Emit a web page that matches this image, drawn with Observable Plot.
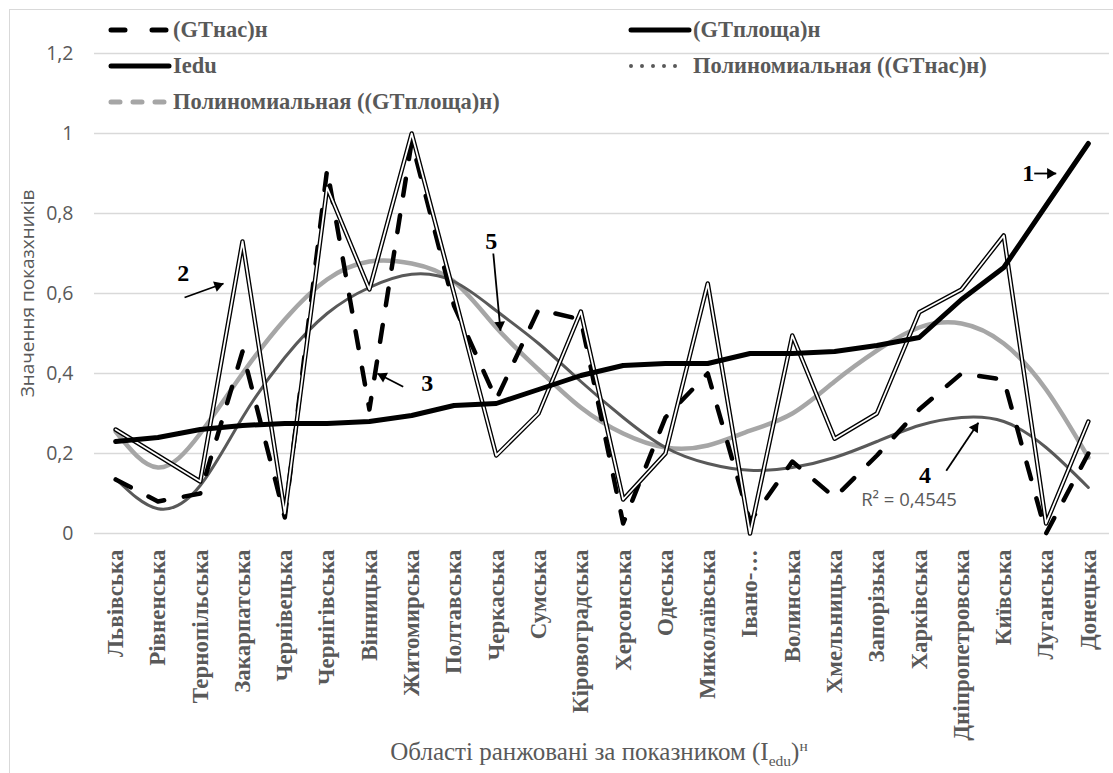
<!DOCTYPE html>
<html>
<head>
<meta charset="utf-8">
<script src="https://cdn.jsdelivr.net/npm/d3@7"></script>
<script src="https://cdn.jsdelivr.net/npm/@observablehq/plot@0.6"></script>
<style>
  body { margin: 0; background: #fff; }
  #wrap { position: relative; width: 1113px; height: 773px; overflow: hidden; background: #fff; }
  #frame { position: absolute; left: 9px; top: 9px; width: 1130px; height: 820px; border: 1px solid #d9d9d9; box-sizing: border-box; }
  #chart { position: absolute; left: 0; top: 0; }
  #legend { position: absolute; left: 108px; top: 12px; display: grid; grid-template-columns: 520px auto; grid-auto-rows: 36px; align-items: center; }
  .leg { display: flex; align-items: center; white-space: nowrap; font-family: "Liberation Serif", "Times New Roman", serif; font-weight: bold; font-size: 22.5px; color: #595959; }
  .leg svg { margin-right: 1px; }
  #xtitle { position: absolute; left: 0; width: 1198px; top: 732px; text-align: center; font-family: "Liberation Serif", "Times New Roman", serif; font-size: 25px; color: #595959; line-height: 28px; }
  #xtitle sub, #xtitle sup { font-size: 62%; }
</style>
</head>
<body>
<div id="wrap">
  <div id="frame"></div>
  <div id="chart"></div>
  <div id="legend"></div>
  <div id="xtitle">Області ранжовані за показником (I<sub>edu</sub>)<sup>н</sup></div>
</div>
<script>
// ---- data ----
const categories = ["Львівська","Рівненська","Тернопільська","Закарпатська","Чернівецька","Чернігівська","Вінницька","Житомирська","Полтавська","Черкаська","Сумська","Кіровоградська","Херсонська","Одеська","Миколаївська","Івано-…","Волинська","Хмельницька","Запорізька","Харківська","Дніпропетровська","Київська","Луганська","Донецька"];

const iedu     = [0.23,0.24,0.26,0.27,0.275,0.275,0.28,0.295,0.32,0.325,0.36,0.395,0.42,0.425,0.425,0.45,0.45,0.455,0.47,0.49,0.585,0.665,0.82,0.975];
const gtPloshcha = [0.26,0.195,0.13,0.73,0.05,0.865,0.61,1.0,0.6,0.195,0.30,0.555,0.085,0.2,0.625,0.0,0.495,0.237,0.30,0.553,0.61,0.745,0.025,0.28];
const gtNas    = [0.135,0.08,0.10,0.455,0.04,0.91,0.31,0.98,0.57,0.335,0.56,0.535,0.025,0.29,0.40,0.03,0.18,0.09,0.195,0.31,0.40,0.385,0.0,0.20];
const trendNas = [0.137,0.062,0.12,0.29,0.44,0.55,0.615,0.648,0.63,0.557,0.475,0.38,0.29,0.215,0.175,0.158,0.165,0.19,0.23,0.27,0.29,0.28,0.215,0.115];
const trendPloshcha = [0.255,0.165,0.25,0.40,0.535,0.635,0.68,0.675,0.63,0.515,0.41,0.315,0.25,0.215,0.22,0.257,0.30,0.38,0.457,0.515,0.525,0.475,0.36,0.19];

const yTicks = [0, 0.2, 0.4, 0.6, 0.8, 1, 1.2];
const yTitle = "Значення показхників";

const legendLabels = ["(GTнас)н", "(GTплоща)н", "Iedu", "Полиномиальная ((GTнас)н)", "Полиномиальная ((GTплоща)н)"];
const legendKinds  = ["dash", "solid", "solid", "dot", "graydash"];

// annotation labels (x in category index units, y in value units)
const noteText = ["1", "2", "3", "4", "5"];
const noteX    = [21.58, 1.60, 7.37, 19.14, 8.88];
const noteY    = [0.90, 0.65, 0.375, 0.145, 0.73];
const arrowX1  = [21.72, 1.63, 6.80, 19.64, 8.93];
const arrowY1  = [0.90, 0.59, 0.367, 0.157, 0.70];
const arrowX2  = [22.24, 2.55, 6.19, 20.40, 9.10];
const arrowY2  = [0.90, 0.625, 0.40, 0.277, 0.507];
const r2Label  = ["R² = 0,4545"];
const r2X = [18.76], r2Y = [0.0825];

// ---- build ----
const W = 1113, H = 773, mT = 53, mB = 240, mL = 94, mR = 4;
const idx = d3.range(categories.length);
const notes = noteText.map((t, i) => ({t, x: noteX[i], y: noteY[i]}));
const arrows = arrowX1.map((_, i) => ({x1: arrowX1[i], y1: arrowY1[i], x2: arrowX2[i], y2: arrowY2[i]}));
const r2 = r2Label.map((t, i) => ({t, x: r2X[i], y: r2Y[i]}));
const fmt = d => String(d).replace(".", ",");

// filled arrowheads: orient each head along its shaft in screen space
const kx = (W - mL - mR) / categories.length, ky = (H - mT - mB) / 1.2;
const heads = arrows.map(a => {
  const px = (a.x2 - a.x1) * kx, py = -(a.y2 - a.y1) * ky;
  const L = Math.hypot(px, py), ux = px / L, uy = py / L, back = 6;
  return {x: a.x2 - ux * back / kx, y: a.y2 + uy * back / ky, rot: Math.atan2(ux, -uy) * 180 / Math.PI};
});

const chart = Plot.plot({
  width: W,
  height: H,
  marginTop: mT,
  marginBottom: mB,
  marginLeft: mL,
  marginRight: mR,
  style: {background: "transparent", overflow: "visible"},
  x: {type: "linear", domain: [-0.5, categories.length - 0.5]},
  y: {domain: [0, 1.2]},
  marks: [
    Plot.gridY(yTicks, {stroke: "#d9d9d9", strokeOpacity: 1, strokeWidth: 1.3}),
    Plot.axisY(yTicks, {tickFormat: fmt, tickSize: 0, tickPadding: 21, fontSize: 19.5, fontFamily: "Open Sans, sans-serif", color: "#595959", label: null}),
    Plot.axisX(idx, {tickFormat: i => categories[i], tickRotate: -90, tickSize: 0, tickPadding: 16, fontSize: 23, fontWeight: "bold", fontFamily: "Liberation Serif, Times New Roman, serif", color: "#595959", label: null}),
    Plot.text([yTitle], {frameAnchor: "left", textAnchor: "middle", rotate: -90, dx: -67, text: d => d, fontSize: 19, fontFamily: "Open Sans, sans-serif", fill: "#595959"}),
    Plot.line(idx, {x: i => i, y: i => trendPloshcha[i], stroke: "#a6a6a6", strokeWidth: 4.5, curve: "natural"}),
    Plot.line(idx, {x: i => i, y: i => trendNas[i], stroke: "#595959", strokeWidth: 3, curve: "natural"}),
    Plot.line(idx, {x: i => i, y: i => gtNas[i], stroke: "black", strokeWidth: 4.5, strokeDasharray: "17,20", strokeLinecap: "round", strokeLinejoin: "round"}),
    Plot.line(idx, {x: i => i, y: i => gtPloshcha[i], stroke: "black", strokeWidth: 4.5, strokeLinejoin: "round"}),
    Plot.line(idx, {x: i => i, y: i => gtPloshcha[i], stroke: "white", strokeWidth: 1.8, strokeLinejoin: "round"}),
    Plot.line(idx, {x: i => i, y: i => iedu[i], stroke: "black", strokeWidth: 5, strokeLinejoin: "round", strokeLinecap: "round"}),
    Plot.link(arrows, {x1: "x1", y1: "y1", x2: "x2", y2: "y2", stroke: "black", strokeWidth: 1.8}),
    Plot.dot(heads, {x: "x", y: "y", rotate: "rot", symbol: "triangle", r: 4, fill: "black", stroke: "none"}),
    Plot.text(notes, {x: "x", y: "y", text: "t", fontSize: 24, fontWeight: "bold", fontFamily: "Liberation Serif, Times New Roman, serif", fill: "black"}),
    Plot.text(r2, {x: "x", y: "y", text: "t", fontSize: 18.5, fontFamily: "Open Sans, sans-serif", fill: "#595959"})
  ]
});
document.getElementById("chart").appendChild(chart);

// ---- legend ----
const legend = document.getElementById("legend");
legendLabels.forEach((label, i) => {
  const item = document.createElement("div");
  item.className = "leg";
  let sw;
  const kind = legendKinds[i];
  if (kind === "dash") sw = '<line x1="3" y1="7" x2="61" y2="7" stroke="black" stroke-width="5" stroke-linecap="round" stroke-dasharray="14,27"/>';
  else if (kind === "solid") sw = '<line x1="3" y1="7" x2="61" y2="7" stroke="black" stroke-width="5" stroke-linecap="round"/>';
  else if (kind === "dot") sw = '<line x1="3" y1="7" x2="58" y2="7" stroke="#595959" stroke-width="4" stroke-linecap="round" stroke-dasharray="0,11"/>';
  else sw = '<line x1="3" y1="7" x2="61" y2="7" stroke="#a6a6a6" stroke-width="5" stroke-linecap="round" stroke-dasharray="9,13"/>';
  item.innerHTML = '<svg width="64" height="14">' + sw + '</svg><span>' + label + '</span>';
  legend.appendChild(item);
});
</script>
</body>
</html>
